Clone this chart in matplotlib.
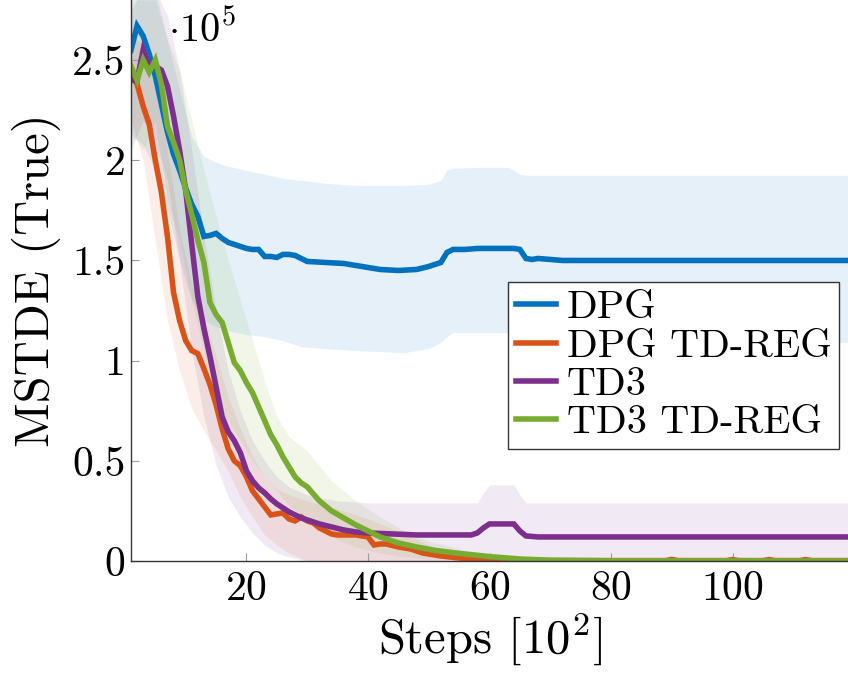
import numpy as np
import matplotlib
matplotlib.use("Agg")
import matplotlib.pyplot as plt
from matplotlib.ticker import FuncFormatter

plt.rcParams['font.family'] = 'cmr10'
plt.rcParams['mathtext.fontset'] = 'cm'
plt.rcParams['axes.unicode_minus'] = False
plt.rcParams['axes.formatter.use_mathtext'] = True

# values in units of 1e5, x in units of 1e2 steps

# DPG
dpg_x = [1, 2, 3, 4, 5, 6, 7, 8, 9, 10, 11, 12, 13, 14, 15, 16, 17, 18, 19, 20,
         21, 22, 23, 24, 25, 26, 27, 28, 29, 30, 33, 36, 39, 42, 45, 48, 50, 52,
         53, 54, 56, 58, 60, 62, 64, 65, 66, 67, 68, 70, 72, 119]
dpg_mean = [2.55, 2.67, 2.62, 2.53, 2.42, 2.28, 2.14, 2.03, 1.95, 1.86,
            1.78, 1.72, 1.62, 1.625, 1.635, 1.61, 1.59, 1.58, 1.57, 1.56,
            1.555, 1.555, 1.52, 1.52, 1.515, 1.53, 1.53, 1.525, 1.51, 1.495,
            1.49, 1.485, 1.47, 1.455, 1.45, 1.455, 1.47, 1.49, 1.54, 1.555,
            1.555, 1.56, 1.56, 1.56, 1.56, 1.555, 1.51, 1.505, 1.51, 1.505,
            1.50, 1.50]
dpg_bx = [1, 3, 5, 7, 9, 11, 13, 15, 17, 20, 23, 26, 29, 33, 38, 42, 46, 50,
          52, 53, 54, 58, 63, 64, 65, 66, 113, 115, 119]
dpg_hi = [2.9, 2.9, 2.85, 2.6, 2.35, 2.12, 2.02, 1.99, 1.97, 1.95, 1.93, 1.91,
          1.90, 1.885, 1.875, 1.875, 1.875, 1.88, 1.90, 1.95, 1.96, 1.965,
          1.965, 1.95, 1.93, 1.925, 1.925, 1.925, 1.925]
dpg_lo = [2.12, 2.08, 1.95, 1.75, 1.5, 1.3, 1.2, 1.17, 1.15, 1.13, 1.12, 1.10,
          1.07, 1.06, 1.05, 1.045, 1.04, 1.06, 1.09, 1.12, 1.14, 1.14, 1.14,
          1.14, 1.14, 1.14, 1.14, 1.09, 1.09]

# DPG TD-REG
reg_x = [1, 2, 3, 4, 5, 6, 7, 8, 9, 10, 11, 12, 13, 14, 15, 16, 17, 18, 19, 20,
         21, 22, 23, 24, 25, 26, 27, 28, 29, 30, 31, 32, 33, 34, 35, 36, 38, 40,
         41, 42, 43, 45, 47, 49, 52, 55, 58, 62, 70, 89, 90, 91, 99, 100, 101,
         105, 106, 107, 111, 112, 113, 119]
reg_mean = [2.42, 2.38, 2.27, 2.18, 2.00, 1.84, 1.62, 1.34, 1.20, 1.10,
            1.05, 1.035, 0.96, 0.88, 0.78, 0.66, 0.56, 0.50, 0.475, 0.42,
            0.35, 0.31, 0.27, 0.23, 0.235, 0.24, 0.21, 0.20, 0.22, 0.20,
            0.19, 0.165, 0.15, 0.135, 0.13, 0.13, 0.13, 0.12, 0.08, 0.085,
            0.085, 0.07, 0.06, 0.04, 0.025, 0.015, 0.007, 0.003, 0.002, 0.002,
            0.008, 0.002, 0.002, 0.007, 0.002, 0.002, 0.007, 0.002, 0.002,
            0.007, 0.002, 0.002]
reg_bx = [1, 3, 5, 7, 9, 11, 13, 15, 17, 19, 21, 23, 25, 27, 30, 35, 40, 45,
          50, 55, 60, 70, 119]
reg_hi = [2.62, 2.58, 2.35, 2.05, 1.65, 1.38, 1.22, 1.02, 0.82, 0.66, 0.52,
          0.42, 0.36, 0.33, 0.30, 0.26, 0.21, 0.15, 0.08, 0.035, 0.012, 0.005,
          0.005]
reg_lo = [2.2, 2.0, 1.6, 1.2, 0.95, 0.76, 0.65, 0.55, 0.45, 0.32, 0.22, 0.13,
          0.08, 0.04, 0.0, -0.03, -0.03, -0.02, -0.02, -0.01, -0.005, 0.0, 0.0]

# TD3
td3_x = [1, 2, 3, 4, 5, 6, 7, 8, 9, 10, 11, 12, 13, 14, 15, 16, 17, 18, 19, 20,
         21, 22, 23, 24, 25, 26, 27, 28, 29, 30, 32, 34, 36, 38, 40, 44, 48, 57,
         58, 59, 60, 64, 65, 66, 68, 119]
td3_mean = [2.40, 2.40, 2.55, 2.47, 2.47, 2.45, 2.37, 2.22, 2.05, 1.85,
            1.58, 1.32, 1.16, 1.02, 0.87, 0.72, 0.645, 0.60, 0.54, 0.45,
            0.40, 0.365, 0.34, 0.31, 0.285, 0.265, 0.245, 0.23, 0.215, 0.205,
            0.185, 0.17, 0.155, 0.145, 0.14, 0.135, 0.13, 0.13, 0.14, 0.165,
            0.185, 0.185, 0.15, 0.125, 0.12, 0.12]
td3_bx = [1, 3, 5, 7, 9, 11, 13, 15, 17, 19, 21, 23, 25, 27, 30, 35, 40, 58,
          59, 60, 64, 65, 66, 119]
td3_hi = [2.75, 2.85, 2.85, 2.72, 2.45, 2.05, 1.62, 1.25, 0.95, 0.75, 0.6, 0.5,
          0.42, 0.37, 0.33, 0.30, 0.29, 0.29, 0.34, 0.38, 0.38, 0.33, 0.29, 0.29]
td3_lo = [2.05, 2.2, 2.1, 1.9, 1.5, 1.05, 0.72, 0.48, 0.32, 0.22, 0.14, 0.08,
          0.04, 0.02, 0.0, -0.02, -0.03, -0.03, -0.01, -0.01, -0.01, -0.03,
          -0.05, -0.05]

# TD3 TD-REG
tdr_x = [1, 2, 3, 4, 5, 6, 7, 8, 9, 10, 11, 12, 13, 14, 15, 16, 17, 18, 19, 20,
         21, 22, 23, 24, 25, 26, 27, 28, 29, 30, 32, 34, 36, 38, 40, 42, 45, 48,
         51, 55, 60, 65, 70, 80, 119]
tdr_mean = [2.47, 2.40, 2.50, 2.44, 2.50, 2.38, 2.17, 2.09, 2.00, 1.85,
            1.73, 1.60, 1.49, 1.29, 1.23, 1.19, 1.09, 0.99, 0.95, 0.89,
            0.84, 0.77, 0.70, 0.63, 0.58, 0.52, 0.47, 0.42, 0.39, 0.37,
            0.30, 0.25, 0.215, 0.18, 0.15, 0.12, 0.09, 0.07, 0.053, 0.038,
            0.022, 0.01, 0.004, 0.001, 0.0]
tdr_bx = [1, 3, 5, 7, 9, 11, 13, 15, 17, 19, 21, 23, 25, 27, 30, 34, 38, 42,
          46, 50, 55, 60, 70, 119]
tdr_hi = [2.8, 2.8, 2.8, 2.6, 2.45, 2.2, 1.95, 1.72, 1.5, 1.3, 1.1, 0.9, 0.72,
          0.62, 0.55, 0.4, 0.3, 0.22, 0.15, 0.1, 0.06, 0.03, 0.008, 0.002]
tdr_lo = [2.15, 2.05, 2.2, 1.8, 1.6, 1.3, 1.05, 0.78, 0.7, 0.6, 0.5, 0.42,
          0.35, 0.28, 0.2, 0.12, 0.07, 0.04, 0.02, 0.01, 0.01, 0.01, 0.0, -0.002]

labels = ['DPG', 'DPG TD-REG', 'TD3', 'TD3 TD-REG']
colors = ['#0072BD', '#D95319', '#7E2F8E', '#77AC30']

series = [(dpg_x, dpg_mean, dpg_bx, dpg_lo, dpg_hi),
          (reg_x, reg_mean, reg_bx, reg_lo, reg_hi),
          (td3_x, td3_mean, td3_bx, td3_lo, td3_hi),
          (tdr_x, tdr_mean, tdr_bx, tdr_lo, tdr_hi)]

fig = plt.figure(figsize=(8.48, 6.78), dpi=100)
ax = fig.add_axes([131/848, 117/678, 717/848, 561/678])

#BANDS
for (x, m, bx, lo, hi), c in zip(series, colors):
    ax.fill_between(bx, lo, hi, color=c, alpha=0.1, linewidth=0)

#MEAN LINES
for (x, m, bx, lo, hi), c, lab in zip(series, colors, labels):
    ax.plot(x, m, color=c, linewidth=4.0, label=lab, solid_joinstyle='miter')

ax.set_xlim(1, 119)
ax.set_ylim(0, 2.8)

ax.set_xticks([20, 40, 60, 80, 100])
ax.set_yticks([0, 0.5, 1, 1.5, 2, 2.5])
ax.yaxis.set_major_formatter(FuncFormatter(lambda v, p: '%g' % v))
ax.tick_params(direction='in', length=6, width=0.8, color='#9a9a9a',
               labelsize=30)
ax.tick_params(axis='y', pad=4)
ax.tick_params(axis='x', pad=7)

for sp in ['top', 'right']:
    ax.spines[sp].set_visible(False)
for sp in ['left', 'bottom']:
    ax.spines[sp].set_linewidth(1.0)
    ax.spines[sp].set_color('#333333')

ax.set_xlabel(r'Steps $[10^2]$', fontsize=35, labelpad=2)
ax.set_ylabel('MSTDE (True)', fontsize=35, labelpad=8)

ax.text(0.052, 0.925, r'$\cdot 10^5$', transform=ax.transAxes,
        fontsize=29, va='baseline', ha='left')

leg = ax.legend(loc='upper left', bbox_to_anchor=(0.526, 0.497),
                borderaxespad=0, fontsize=29, handlelength=1.0,
                handletextpad=0.25, labelspacing=0.05, borderpad=0.2,
                fancybox=False, framealpha=1, edgecolor='#333333')
leg.get_frame().set_linewidth(1.0)

fig.savefig('out.png', dpi=100)
